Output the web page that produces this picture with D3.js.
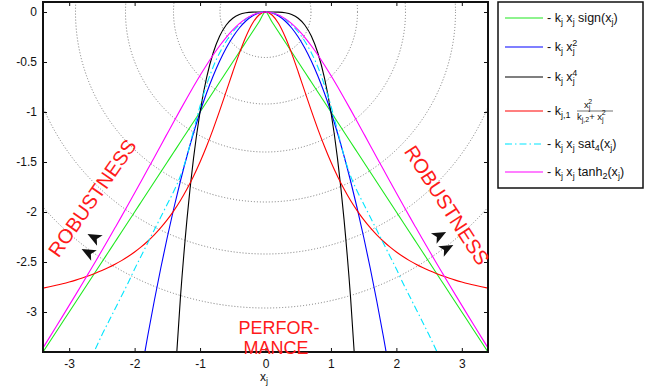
<!DOCTYPE html>
<html>
<head>
<meta charset="utf-8">
<script src="https://cdn.jsdelivr.net/npm/d3@7"></script>
<style>
  body { margin: 0; background: #fff; }
  text { font-family: "Liberation Sans", Arial, sans-serif; }
</style>
</head>
<body>
<svg id="chart" width="659" height="389"></svg>
<script>
// sample positions (x >= 0); curves are even so the left half is mirrored
const xHalf = [0, 0.1, 0.2, 0.3, 0.4, 0.5, 0.6, 0.7, 0.8, 0.9, 1.0, 1.1, 1.2, 1.3, 1.4, 1.5, 1.6, 1.7,
               1.8, 1.9, 2.0, 2.1, 2.2, 2.3, 2.4, 2.5, 2.6, 2.7, 2.8, 2.9, 3.0, 3.1, 3.2, 3.3, 3.4];

const ySign = [0, -0.1, -0.2, -0.3, -0.4, -0.5, -0.6, -0.7, -0.8, -0.9, -1.0, -1.1, -1.2, -1.3, -1.4, -1.5, -1.6, -1.7,
               -1.8, -1.9, -2.0, -2.1, -2.2, -2.3, -2.4, -2.5, -2.6, -2.7, -2.8, -2.9, -3.0, -3.1, -3.2, -3.3, -3.4];
const ySquare = [0, -0.01, -0.04, -0.09, -0.16, -0.25, -0.36, -0.49, -0.64, -0.81, -1.0, -1.21, -1.44, -1.69, -1.96,
                 -2.25, -2.56, -2.89, -3.24, -3.61, -4.0, null, null, null, null, null, null, null, null, null, null,
                 null, null, null, null];
const yQuart = [0, -0.0001, -0.0016, -0.0081, -0.0256, -0.0625, -0.1296, -0.2401, -0.4096, -0.6561, -1.0, -1.4641,
                -2.0736, -2.8561, -3.8416, -5.0625, null, null, null, null, null, null, null, null, null, null, null,
                null, null, null, null, null, null, null, null];
const yRatio = [0, -0.0297, -0.1154, -0.2477, -0.4138, -0.6, -0.7941, -0.9866, -1.1707, -1.3425, -1.5, -1.6425,
                -1.7705, -1.8848, -1.9865, -2.0769, -2.1573, -2.2288, -2.2925, -2.3492, -2.4, -2.4455, -2.4863,
                -2.5231, -2.5562, -2.5862, -2.6134, -2.6381, -2.6606, -2.6812, -2.7, -2.7173, -2.7331, -2.7477, -2.7611];
const ySat = [0, -0.008, -0.032, -0.072, -0.128, -0.2, -0.292, -0.407, -0.55, -0.729, -0.94, -1.186, -1.44, -1.64,
              -1.79, -1.92, -2.05, -2.18, -2.31, -2.44, -2.57, -2.71, -2.84, -2.97, -3.1, -3.23, -3.37, -3.5,
              null, null, null, null, null, null, null];
const yTanh = [0, -0.0075, -0.0298, -0.0664, -0.1165, -0.1792, -0.2531, -0.3372, -0.4296, -0.5293, -0.6351, -0.7455,
               -0.8596, -0.9763, -1.0945, -1.2141, -1.3339, -1.4544, -1.5734, -1.6921, -1.8103, -1.9272, -2.0436,
               -2.1583, -2.2723, -2.3853, -2.4968, -2.6074, -2.7174, -2.8261, -2.934, -3.0411, -3.1478, -3.2538, -3.3589];

const seriesValues = [ySign, ySquare, yQuart, yRatio, ySat, yTanh];
const seriesColors = ['#1ee81e', '#0000ff', '#000000', '#ff0000', '#00e5ff', '#ff00ff'];
const seriesDash = [null, null, null, null, '7,3,1.5,3', null];

// dotted level circles around the origin (radius in y units)
const circleRadii = [0.455, 0.92, 1.40, 1.90, 2.42, 2.96];

const xTicks = [-3, -2, -1, 0, 1, 2, 3];
const yTicks = [0, -0.5, -1, -1.5, -2, -2.5, -3];

// arrow heads: tip in data units, angle in degrees
const arrowX = [-2.72, -2.81, 2.76, 2.87];
const arrowY = [-2.22, -2.37, -2.20, -2.33];
const arrowAngle = [28, 28, 152, 152];

const svg = d3.select('#chart');
const box = {left: 43, right: 488, top: 2, bottom: 352};

const x = d3.scaleLinear().domain([-3.4, 3.4]).range([box.left, box.right]);
const y = d3.scaleLinear().domain([0.1, -3.4]).range([box.top, box.bottom]);

svg.append('defs').append('clipPath').attr('id', 'plotclip')
   .append('rect')
   .attr('x', box.left).attr('y', box.top)
   .attr('width', box.right - box.left).attr('height', box.bottom - box.top);

const plot = svg.append('g').attr('clip-path', 'url(#plotclip)');

// circles
plot.selectAll('circle.level')
    .data(circleRadii)
    .enter()
    .append('circle')
    .attr('class', 'level')
    .attr('cx', x(0))
    .attr('cy', y(0))
    .attr('r', d => y(-d) - y(0))
    .attr('fill', 'none')
    .attr('stroke', '#777')
    .attr('stroke-width', 1)
    .attr('stroke-dasharray', '1,2');

// curves
function fullSeries(vals) {
  const pts = [];
  for (let i = xHalf.length - 1; i > 0; i--) pts.push([-xHalf[i], vals[i]]);
  for (let i = 0; i < xHalf.length; i++) pts.push([xHalf[i], vals[i]]);
  return pts;
}

const line = d3.line()
               .defined(d => d[1] !== null)
               .x(d => x(d[0]))
               .y(d => y(d[1]))
               .curve(d3.curveMonotoneX);

seriesValues.forEach((vals, i) => {
  plot.append('path')
      .datum(fullSeries(vals))
      .attr('d', line)
      .attr('fill', 'none')
      .attr('stroke', seriesColors[i])
      .attr('stroke-width', 1.1)
      .attr('stroke-dasharray', seriesDash[i]);
});

// arrows
svg.selectAll('path.arrow')
   .data(arrowX.map((d, i) => [d, arrowY[i], arrowAngle[i]]))
   .enter()
   .append('path')
   .attr('class', 'arrow')
   .attr('d', 'M0,0 L14,-6 L10.5,0 L14,6 Z')
   .attr('transform', d => `translate(${x(d[0])},${y(d[1])}) rotate(${d[2]})`)
   .attr('fill', '#111');

// axes
const fmt = d => String(d);
svg.append('g')
   .attr('transform', `translate(0,${box.bottom})`)
   .call(d3.axisBottom(x).tickValues(xTicks).tickSizeInner(-4).tickSizeOuter(0).tickPadding(7).tickFormat(fmt));
svg.append('g')
   .attr('transform', `translate(0,${box.top})`)
   .call(d3.axisTop(x).tickValues(xTicks).tickSizeInner(-4).tickSizeOuter(0).tickFormat(''));
svg.append('g')
   .attr('transform', `translate(${box.left},0)`)
   .call(d3.axisLeft(y).tickValues(yTicks).tickSizeInner(-4).tickSizeOuter(0).tickPadding(6).tickFormat(fmt));
svg.append('g')
   .attr('transform', `translate(${box.right},0)`)
   .call(d3.axisRight(y).tickValues(yTicks).tickSizeInner(-4).tickSizeOuter(0).tickFormat(''));

svg.selectAll('.tick text').attr('font-size', 12).attr('fill', '#111')
   .style('font-family', '"Liberation Sans", Arial, sans-serif');
svg.selectAll('.tick line').attr('stroke', '#111');
svg.selectAll('.domain').remove();

svg.append('rect')
   .attr('x', box.left).attr('y', box.top)
   .attr('width', box.right - box.left).attr('height', box.bottom - box.top)
   .attr('fill', 'none').attr('stroke', '#111').attr('stroke-width', 2);

// rich text helper: segments of [text, 'sub'|'sup'|'', dx]
function rich(sel, segs, small) {
  let shift = 0;
  segs.forEach(([t, kind, dx]) => {
    const target = kind === 'sub' ? small * 0.35 : kind === 'sup' ? -small * 0.6 : 0;
    const ts = sel.append('tspan').attr('dy', target - shift).text(t);
    if (kind) ts.attr('font-size', small);
    if (dx) ts.attr('dx', dx);
    shift = target;
  });
}

// x label
rich(svg.append('text').attr('x', 260).attr('y', 381).attr('font-size', 12).attr('fill', '#111'),
     [['x', ''], ['j', 'sub']], 9);

// annotations
const red = '#ff1a1a';
svg.append('text').attr('transform', 'translate(98,202) rotate(-55)')
   .attr('text-anchor', 'middle').attr('font-size', 20).attr('fill', red).text('ROBUSTNESS');
svg.append('text').attr('transform', 'translate(441,209) rotate(57)')
   .attr('text-anchor', 'middle').attr('font-size', 20).attr('fill', red).text('ROBUSTNESS');
svg.append('text').attr('x', 279).attr('y', 334)
   .attr('text-anchor', 'middle').attr('font-size', 18).attr('fill', red).text('PERFOR-');
svg.append('text').attr('x', 276).attr('y', 353.5)
   .attr('text-anchor', 'middle').attr('font-size', 18).attr('fill', red).text('MANCE');

// legend
const legendRows = [18, 47, 77, 111, 144, 172];
const legendText = [
  [['- k', ''], ['j', 'sub'], [' x', ''], ['j', 'sub'], [' sign(x', ''], ['j', 'sub'], [')', '']],
  [['- k', ''], ['j', 'sub'], [' x', ''], ['j', 'sub'], ['2', 'sup', -2.5]],
  [['- k', ''], ['j', 'sub'], [' x', ''], ['j', 'sub'], ['4', 'sup', -2.5]],
  [['- k', ''], ['j,1', 'sub']],
  [['- k', ''], ['j', 'sub'], [' x', ''], ['j', 'sub'], [' sat', ''], ['4', 'sub'], ['(x', ''], ['j', 'sub'], [')', '']],
  [['- k', ''], ['j', 'sub'], [' x', ''], ['j', 'sub'], [' tanh', ''], ['2', 'sub'], ['(x', ''], ['j', 'sub'], [')', '']]
];

const legend = svg.append('g');
legend.append('rect')
      .attr('x', 498).attr('y', 2).attr('width', 145).attr('height', 186)
      .attr('fill', '#fff').attr('stroke', '#111').attr('stroke-width', 1.5);

legendRows.forEach((ry, i) => {
  legend.append('line')
        .attr('x1', 505).attr('x2', 543).attr('y1', ry).attr('y2', ry)
        .attr('stroke', seriesColors[i]).attr('stroke-width', 1.1)
        .attr('stroke-dasharray', seriesDash[i]);
  rich(legend.append('text').attr('x', 547).attr('y', ry + 4).attr('font-size', 12.5).attr('fill', '#111'),
       legendText[i], 9);
});

// fraction of the fourth entry
const fr = legendRows[3];
rich(legend.append('text').attr('x', 584).attr('y', fr - 3).attr('font-size', 9.5).attr('fill', '#111'),
     [['x', ''], ['j', 'sub'], ['2', 'sup', -2]], 7);
legend.append('line').attr('x1', 577).attr('x2', 613).attr('y1', fr).attr('y2', fr)
      .attr('stroke', '#111').attr('stroke-width', 0.6);
rich(legend.append('text').attr('x', 577).attr('y', fr + 8.5).attr('font-size', 9.5).attr('fill', '#111'),
     [['k', ''], ['j,2', 'sub'], ['+ x', ''], ['j', 'sub'], ['2', 'sup', -2]], 7);
</script>
</body>
</html>
